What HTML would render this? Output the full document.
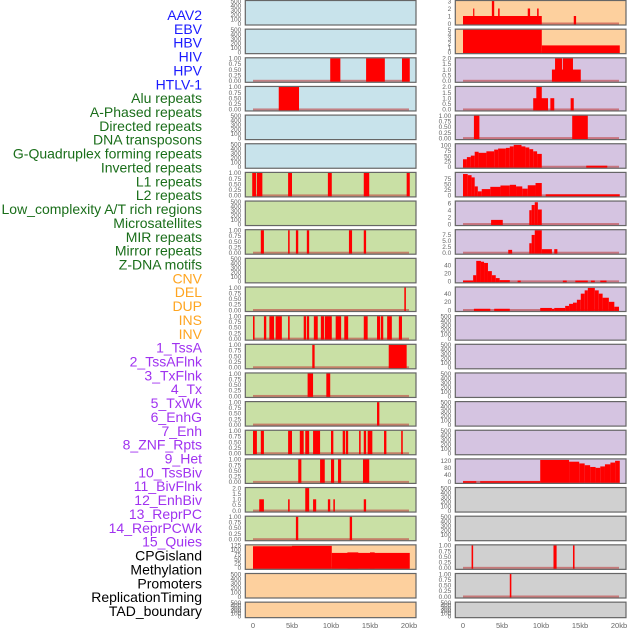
<!DOCTYPE html>
<html><head><meta charset="utf-8"><style>
html,body{margin:0;padding:0;background:#fff;}
svg{display:block;font-family:"Liberation Sans",sans-serif;}
</style></head><body>
<svg id="chart" width="630" height="630" xmlns="http://www.w3.org/2000/svg">
<g id="labels"></g>
<g id="panels"></g>
</svg>
<script>
const trackNames = ["AAV2","EBV","HBV","HIV","HPV","HTLV-1","Alu repeats","A-Phased repeats","Directed repeats","DNA transposons","G-Quadruplex forming repeats","Inverted repeats","L1 repeats","L2 repeats","Low_complexity A/T rich regions","Microsatellites","MIR repeats","Mirror repeats","Z-DNA motifs","CNV","DEL","DUP","INS","INV","1_TssA","2_TssAFlnk","3_TxFlnk","4_Tx","5_TxWk","6_EnhG","7_Enh","8_ZNF_Rpts","9_Het","10_TssBiv","11_BivFlnk","12_EnhBiv","13_ReprPC","14_ReprPCWk","15_Quies","CPGisland","Methylation","Promoters","ReplicationTiming","TAD_boundary"];
const trackGroups = ["v","v","v","v","v","v","r","r","r","r","r","r","r","r","r","r","r","r","r","s","s","s","s","s","c","c","c","c","c","c","c","c","c","c","c","c","c","c","c","o","o","o","o","o"];
const xTicks = [0,5,10,15,20];
const xTickLabels = ["0","5kb","10kb","15kb","20kb"];
const ticksEmpty = [0,100,200,300,400,500];
const ticksUnit = [0,0.25,0.5,0.75,1];
const ticksTwo = [0,0.5,1,1.5,2];

// bars: [startKb, endKb, value]
const L3_bars = [[9.9,11.2,1],[14.5,16.9,1],[19.1,20.1,1]];
const L4_bars = [[3.3,5.9,1]];
const L7_bars = [[-0.1,0.4,1],[0.5,1.2,1],[4.5,5.0,1],[9.6,10.1,1],[14.2,14.9,1],[19.7,20.1,1]];
const L9_bars = [[1.0,1.4,1],[4.5,4.7,1],[5.5,5.8,1],[6.9,7.2,1],[12.3,12.7,1],[14.2,14.5,1]];
const L11_bars = [[19.4,19.6,1]];
const L12_bars = [[0,0.2,1],[1.4,1.7,1],[2.1,2.7,1],[2.9,3.7,1],[4.5,4.7,1],[6.5,6.8,1],[6.9,7.2,1],[7.8,8.3,1],[8.7,9.1,1],[9.2,10.1,1],[10.6,11.3,1],[11.7,12.2,1],[14.2,14.7,1],[15.9,16.3,1],[16.4,16.7,1],[17.2,17.8,1],[18.7,19.1,1]];
const L13_bars = [[7.6,7.9,1],[17.4,19.7,1]];
const L14_bars = [[7.0,7.7,1],[9.4,9.9,1]];
const L15_bars = [[15.9,16.2,1]];
const L16_bars = [[0,0.5,1],[1.0,1.4,1],[4.5,5.0,1],[6.0,6.5,1],[6.7,7.2,1],[7.7,8.6,1],[10.0,10.3,1],[11.5,11.8,1],[11.9,12.2,1],[13.6,13.8,1],[14.2,14.5,1],[14.7,15.3,1],[16.8,17.1,1],[19.0,19.2,1]];
const L17_bars = [[5.8,6.2,1],[8.6,9.2,1],[10.0,10.4,1],[10.9,11.3,1],[14.1,14.9,1]];
const L18_bars = [[0.8,1.4,1],[4.5,4.7,1],[6.7,7.2,2],[7.7,8.1,1],[9.6,9.9,1],[10.3,10.5,1],[14.2,14.5,1]];
const L19_bars = [[5.5,5.8,1],[12.4,12.7,1]];
const L20_bars = [[0,5,120],[5,10.1,122],[10.1,20.1,83],[12.1,13.5,86],[15.0,15.6,86]];

const R1_bars = [[0,10.1,1],[1.3,1.4,2],[3.7,4.0,3],[4.5,4.7,2],[8.3,8.6,2],[9.5,9.7,2],[14.2,14.5,1]];
const R2_bars = [[0,10.1,5],[10.1,20.1,1.5]];
const R3_bars = [[11.4,15.1,1],[11.8,12.7,2],[12.8,14.1,2]];
const R4_bars = [[9.0,10.9,1],[9.4,10.1,2],[11.2,11.7,1],[13.8,14.2,1]];
const R5_bars = [[1.4,2.1,1],[14.0,16.0,1]];
const R6_bars = [[0,0.5,35],[0.5,1,45],[1,1.5,52],[1.5,2,70],[2,3,65],[3,4,72],[4,4.5,80],[4.5,5.5,85],[5.5,6,88],[6,6.5,95],[6.5,7.5,102],[7.5,8,95],[8,8.5,90],[8.5,9,82],[9,9.5,72],[9.5,10.1,60],[15.8,18.5,5]];
const R7_bars = [[0,0.6,95],[0.6,1.1,90],[1.1,1.5,80],[1.5,1.9,40],[1.9,2.4,18],[2.4,3.5,28],[3.5,4.8,38],[4.8,6.0,44],[6.0,6.8,47],[6.8,7.6,40],[7.6,8.3,30],[8.3,9.3,45],[9.3,10.1,55],[10.6,20.1,5]];
const R8_bars = [[3.6,5.1,1.2],[8.5,8.8,4],[8.8,9.2,5.5],[9.2,9.6,6.3],[9.6,10.1,4.2]];
const R9_bars = [[5.8,6.3,1.2],[8.5,8.8,4],[8.8,9.2,7.5],[9.2,10.1,9.5],[10.1,11.4,1.5],[11.7,12.1,1.5]];
const R10_bars = [[0,1.3,2],[1.3,1.7,15],[1.7,2.3,50],[2.3,2.7,48],[2.7,3.2,45],[3.2,3.7,25],[3.7,4.2,15],[4.2,4.7,8],[4.7,6.0,3],[7.0,7.4,2],[12.8,13.3,2],[14.4,16.0,2],[16.4,16.9,2],[17.6,18.4,2]];
const R11_bars = [[1.4,3.5,3],[4,6,3],[9.9,11.4,5],[11.4,11.7,3],[11.7,13.1,5],[13.1,13.6,10],[13.6,14.1,15],[14.1,14.6,18],[14.6,15.1,25],[15.1,15.6,40],[15.6,16,48],[16,16.9,54],[16.9,17.4,48],[17.4,17.9,40],[17.9,18.7,30],[18.7,19.4,20],[19.4,20,8]];
const R17_bars = [[0,1.7,4],[2.2,9.9,4],[9.9,13.6,125],[13.6,14.9,115],[14.9,15.6,105],[15.6,16.3,95],[16.3,17.0,85],[17.0,17.6,80],[17.6,18.2,88],[18.2,18.9,100],[18.9,19.5,110],[19.5,20.1,120]];
const R20_bars = [[1.1,1.3,1],[11.6,12.0,1],[14.1,14.3,1]];
const R21_bars = [[6.0,6.2,1]];

const BLUE="#c8e3eb", GREEN="#c9e0a5", ORANGE="#fdd09e", PURPLE="#d5c4e1", GRAY="#d0d0d0";
// [bg, ymax, ticks, bars]
const leftPanels = [
 [BLUE,500,ticksEmpty,null],[BLUE,500,ticksEmpty,null],[BLUE,1,ticksUnit,L3_bars],[BLUE,1,ticksUnit,L4_bars],
 [BLUE,500,ticksEmpty,null],[BLUE,500,ticksEmpty,null],[GREEN,1,ticksUnit,L7_bars],[GREEN,500,ticksEmpty,null],
 [GREEN,1,ticksUnit,L9_bars],[GREEN,500,ticksEmpty,null],[GREEN,1,ticksUnit,L11_bars],[GREEN,1,ticksUnit,L12_bars],
 [GREEN,1,ticksUnit,L13_bars],[GREEN,1,ticksUnit,L14_bars],[GREEN,1,ticksUnit,L15_bars],[GREEN,1,ticksUnit,L16_bars],
 [GREEN,1,ticksUnit,L17_bars],[GREEN,2,ticksTwo,L18_bars],[GREEN,1,ticksUnit,L19_bars],[ORANGE,125,[0,25,50,75,100,125],L20_bars],
 [ORANGE,500,ticksEmpty,null],[ORANGE,500,ticksEmpty,null]];
const rightPanels = [
 [ORANGE,3,[0,1,2,3],R1_bars],[ORANGE,5,[0,1,2,3,4,5],R2_bars],[PURPLE,2,ticksTwo,R3_bars],[PURPLE,2,ticksTwo,R4_bars],
 [PURPLE,1,ticksUnit,R5_bars],[PURPLE,105,[0,25,50,75,100],R6_bars],[PURPLE,100,[0,25,50,75],R7_bars],[PURPLE,6.5,[0,2,4,6],R8_bars],
 [PURPLE,9.5,[0,2.5,5,7.5],R9_bars],[PURPLE,55,[0,20,40],R10_bars],[PURPLE,55,[0,20,40],R11_bars],[PURPLE,500,ticksEmpty,null],
 [PURPLE,500,ticksEmpty,null],[PURPLE,500,ticksEmpty,null],[PURPLE,500,ticksEmpty,null],[PURPLE,500,ticksEmpty,null],
 [PURPLE,128,[0,40,80,120],R17_bars],[GRAY,500,ticksEmpty,null],[GRAY,500,ticksEmpty,null],[GRAY,1,ticksUnit,R20_bars],
 [GRAY,1,ticksUnit,R21_bars],[GRAY,500,ticksEmpty,null]];

const NS="http://www.w3.org/2000/svg";
const groupColor={v:"#1a1aff",r:"#1a6e1a",s:"#ffa520",c:"#a032f0",o:"#000"};
const labG=document.getElementById("labels"), panG=document.getElementById("panels");
function mk(tag,attrs,parent){const e=document.createElementNS(NS,tag);for(const k in attrs)e.setAttribute(k,attrs[k]);parent.appendChild(e);return e;}

trackNames.forEach((n,i)=>{
  const t=mk("text",{x:202,y:(20+i*13.86).toFixed(1),"text-anchor":"end","font-size":"14",fill:groupColor[trackGroups[i]]},labG);
  t.textContent=n;
  
  
});

function rowTop(i){return 0.5+28.65*i;}
function rowH(i){return i===21?15.5:24.5;}
function fmt(v,ticks){const step=ticks[1]-ticks[0];if(step<0.5)return v.toFixed(2);if(step<1)return v.toFixed(1);if(step===2.5)return v.toFixed(1);return String(v);}

function drawColumn(panels,x0,x1,kb0){
  const xs=kb=>kb0+kb*7.8;
  panels.forEach((p,i)=>{
    const bg=p[0],ymax=p[1],ticks=p[2],bars=p[3];
    const top=rowTop(i),h=rowH(i),bot=top+h;
    const g=mk("g",{},panG);
    
    
    mk("rect",{x:x0,y:top,width:x1-x0,height:h,fill:bg},g);
    const ys=v=>bot-1.5-(v/ymax)*(h-2);
    if(bars){
      mk("rect",{x:xs(0),y:ys(0)-1,width:xs(20)-xs(0),height:2,fill:"#c04040",opacity:"0.6"},g);
      bars.forEach(b=>{
        const r=mk("rect",{x:xs(b[0]).toFixed(2),y:ys(b[2]).toFixed(2),width:Math.max(1.2,xs(b[1])-xs(b[0])).toFixed(2),height:(ys(0)-ys(b[2])+1).toFixed(2),fill:"#ff0000"},g);
        
        
      });
    }
    mk("rect",{x:x0,y:top,width:x1-x0,height:h,fill:"none",stroke:"#666","stroke-width":"1.2"},g);
    ticks.forEach(v=>{
      const t=mk("text",{x:x0-4,y:(ys(v)+2.3).toFixed(1),"text-anchor":"end","font-size":"6.5",fill:"#666"},g);
      t.textContent=fmt(v,ticks);
      
      
    });
  });
  xTicks.forEach((k,j)=>{
    const t=mk("text",{x:xs(k),y:628,"text-anchor":"middle","font-size":"7.5",fill:"#666"},panG);
    t.textContent=xTickLabels[j];
    
    
  });
}
drawColumn(leftPanels,245.3,416,253);
drawColumn(rightPanels,455.3,626,463);
</script>
</body></html>
